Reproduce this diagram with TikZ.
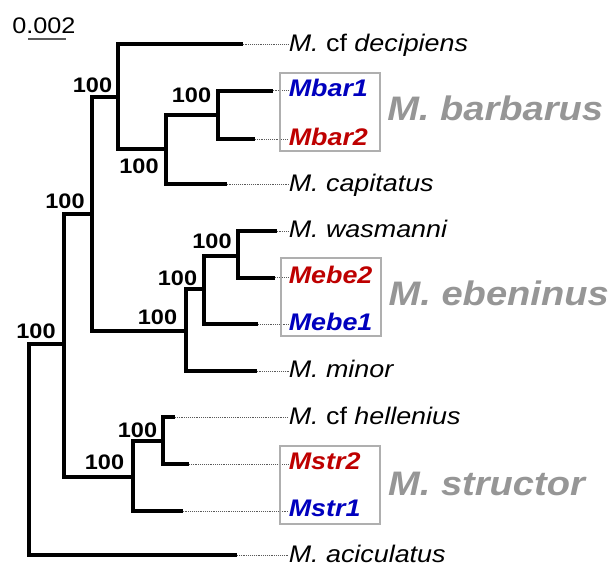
\documentclass[tikz,border=0pt]{standalone}
\usepackage{fontspec}
\setmainfont{Liberation Sans}[FakeStretch=1.12]
\usetikzlibrary{positioning}

\definecolor{hapblue}{RGB}{0,0,190}
\definecolor{hapred}{RGB}{190,0,0}
\definecolor{grpgray}{RGB}{150,150,150}
\definecolor{boxgray}{RGB}{175,175,175}
\definecolor{leadgray}{RGB}{90,90,90}

\tikzset{
  branch/.style={line width=3pt},
  leader/.style={line width=0.7pt, leadgray, dash pattern=on 0.7pt off 0.7pt},
  tip/.style={anchor=west, inner sep=0pt, text height=12.9pt, text depth=0pt,
    font=\fontsize{18}{20}\selectfont\itshape},
  hap/.style={tip, font=\fontsize{18}{20}\selectfont\bfseries\itshape},
  boot/.style={inner sep=0pt, text height=11.3pt, text depth=0pt,
    font=\fontsize{15.75}{18}\selectfont\bfseries},
  grpbox/.style={draw=boxgray, line width=1.5pt, minimum width=75pt, minimum height=58.5pt},
  grp/.style={anchor=west, inner sep=0pt, text height=18.3pt, text depth=0pt, text=grpgray,
    font=\fontsize{25.5}{28}\selectfont\bfseries\itshape}
}

\begin{document}
\begin{tikzpicture}[x=0.75pt, y=-0.75pt]
\useasboundingbox (0,0) rectangle (610,566);

% scale bar
\node[anchor=west, inner sep=0pt, text height=12.1pt, text depth=0pt,
  font=\fontsize{16.9}{19}\selectfont] (scl) at (12,25.5) {0.002};
\coordinate (sbL) at (28,39);
\coordinate (sbR) at (66,39);
\draw[line width=1.1pt, leadgray] (sbL) -- (sbR);

% branch ends
\coordinate (decEnd) at (242.7,44.3);
\coordinate (barAEnd) at (272.7,90.7);
\coordinate (barBEnd) at (255,139.3);
\coordinate (capEnd) at (226.7,184.3);
\coordinate (wasEnd) at (276.7,231);
\coordinate (ebeBEnd) at (275,277.7);
\coordinate (ebeAEnd) at (258.3,324.3);
\coordinate (minEnd) at (256.7,371);
\coordinate (helEnd) at (175,417.3);
\coordinate (strBEnd) at (189,464.3);
\coordinate (strAEnd) at (182.7,511);
\coordinate (acicEnd) at (237,555.3);

% inner nodes
\coordinate (nBar) at (218.3,115);
\coordinate (nCap) at (165.7,149.3);
\coordinate (nDec) at (118.3,96.7);
\coordinate (nWas) at (238.3,255.7);
\coordinate (nEbe) at (204,289.3);
\coordinate (nMin) at (185.7,331);
\coordinate (nIn) at (91.7,214);
\coordinate (nHel) at (163.3,441);
\coordinate (nStr) at (133.3,476.7);
\coordinate (nUp) at (63.5,344);
\coordinate (root) at (28.5,450);

% tree
\draw[branch] (barAEnd) -| (nBar) |- (barBEnd);
\draw[branch] (nBar) -| (nCap) |- (capEnd);
\draw[branch] (decEnd) -| (nDec) |- (nCap);
\draw[branch] (wasEnd) -| (nWas) |- (ebeBEnd);
\draw[branch] (nWas) -| (nEbe) |- (ebeAEnd);
\draw[branch] (nEbe) -| (nMin) |- (minEnd);
\draw[branch] (nDec) -| (nIn) |- (nMin);
\draw[branch] (helEnd) -| (nHel) |- (strBEnd);
\draw[branch] (nHel) -| (nStr) |- (strAEnd);
\draw[branch] (nIn) -| (nUp) |- (nStr);
\draw[branch] (nUp) -| (root) |- (acicEnd);

% bootstrap values
\node[boot] (bBar) at (191.5,94.7) {100};
\node[boot] (bCap) at (139,165.5) {100};
\node[boot] (bDec) at (92.5,84.5) {100};
\node[boot] (bWas) at (212,241) {100};
\node[boot] (bEbe) at (177.5,278) {100};
\node[boot] (bMin) at (157.5,316.5) {100};
\node[boot] (bIn) at (65,201) {100};
\node[boot] (bHel) at (137.5,430) {100};
\node[boot] (bStr) at (104.5,462) {100};
\node[boot] (bUp) at (36,331) {100};

% tip labels
\node[tip] (tDec) at (288.5,42.5) {M. \textup{cf} decipiens};
\node[hap, hapblue] (tBarA) at (288.5,88) {Mbar1};
\node[hap, hapred] (tBarB) at (288.5,136.5) {Mbar2};
\node[tip] (tCap) at (288.5,182.5) {M. capitatus};
\node[tip] (tWas) at (288.5,229) {M. wasmanni};
\node[hap, hapred] (tEbeB) at (288.5,274.5) {Mebe2};
\node[hap, hapblue] (tEbeA) at (288.5,321.5) {Mebe1};
\node[tip] (tMin) at (288.5,369) {M. minor};
\node[tip] (tHel) at (288.5,415.5) {M. \textup{cf} hellenius};
\node[hap, hapred] (tStrB) at (288.5,461) {Mstr2};
\node[hap, hapblue] (tStrA) at (288.5,508) {Mstr1};
\node[tip] (tAcic) at (288.5,553.5) {M. aciculatus};

% leaders
\draw[leader] (decEnd) -- (decEnd -| tDec.west);
\draw[leader] (barAEnd) -- (barAEnd -| tBarA.west);
\draw[leader] (barBEnd) -- (barBEnd -| tBarB.west);
\draw[leader] (capEnd) -- (capEnd -| tCap.west);
\draw[leader] (wasEnd) -- (wasEnd -| tWas.west);
\draw[leader] (ebeBEnd) -- (ebeBEnd -| tEbeB.west);
\draw[leader] (ebeAEnd) -- (ebeAEnd -| tEbeA.west);
\draw[leader] (minEnd) -- (minEnd -| tMin.west);
\draw[leader] (helEnd) -- (helEnd -| tHel.west);
\draw[leader] (strBEnd) -- (strBEnd -| tStrB.west);
\draw[leader] (strAEnd) -- (strAEnd -| tStrA.west);
\draw[leader] (acicEnd) -- (acicEnd -| tAcic.west);

% species boxes
\node[grpbox] (boxBar) at (330,112) {};
\node[grpbox] (boxEbe) at (330.5,297.5) {};
\node[grpbox] (boxStr) at (330,485) {};
\node[grp, right=4.5pt of boxBar, yshift=2.8pt] (gBar) {M. barbarus};
\node[grp, right=5.2pt of boxEbe, yshift=3pt] (gEbe) {M. ebeninus};
\node[grp, right=5.2pt of boxStr, yshift=1pt] (gStr) {M. structor};
\end{tikzpicture}
\end{document}
